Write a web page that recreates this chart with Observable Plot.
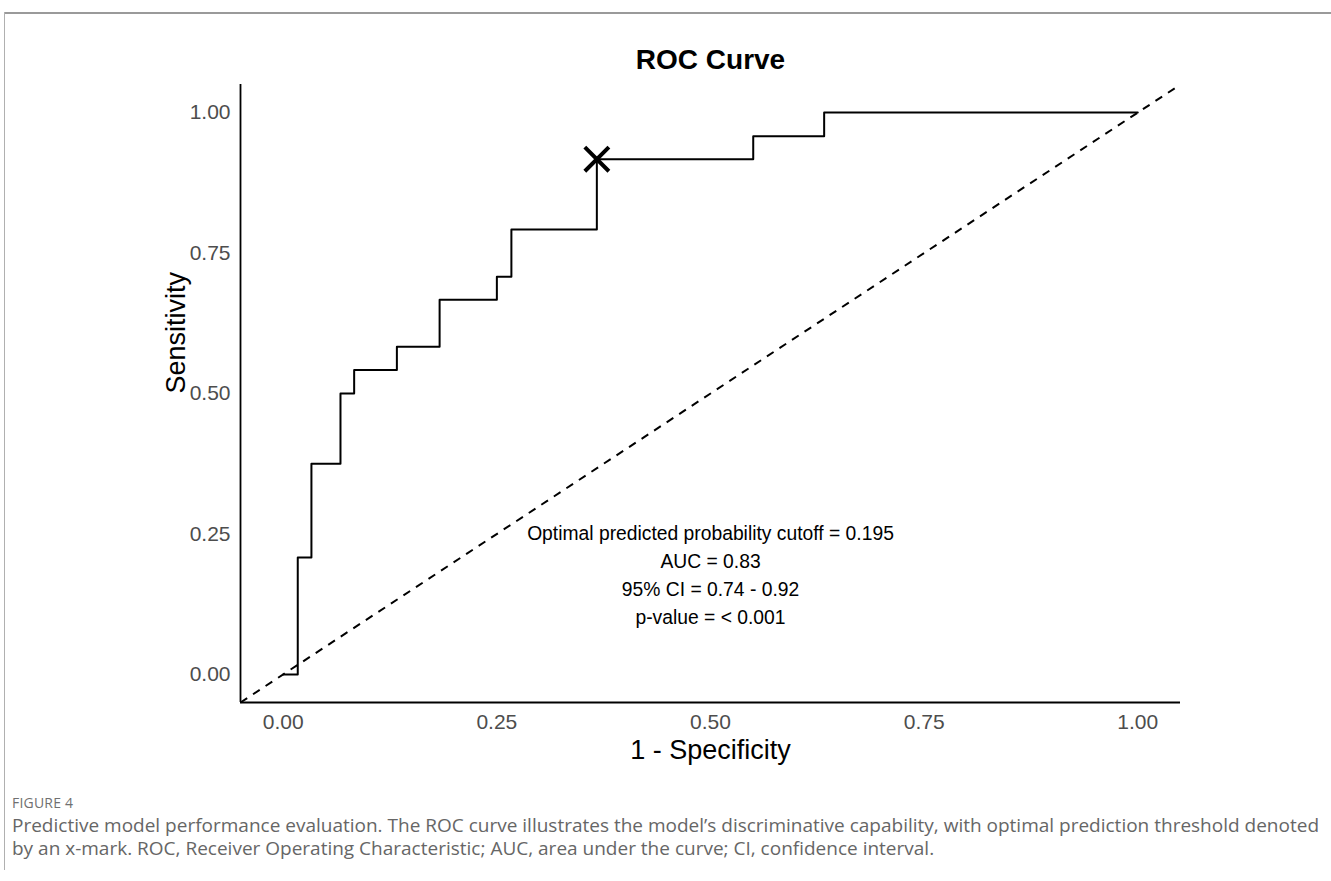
<!DOCTYPE html>
<html>
<head>
<meta charset="utf-8">
<script src="https://cdn.jsdelivr.net/npm/d3@7"></script>
<script src="https://cdn.jsdelivr.net/npm/@observablehq/plot@0.6"></script>
<style>
  html, body { margin: 0; padding: 0; background: #fff; }
  body { width: 1331px; height: 881px; position: relative; overflow: hidden; }
  #chart { position: absolute; left: 0; top: 0; }
  #chart svg text { font-family: "Liberation Sans", Arial, Helvetica, sans-serif; }
  #frameTop { position: absolute; left: 4px; top: 12px; width: 1327px; height: 2px; background: #9a9a9a; }
  #frameLeft { position: absolute; left: 4px; top: 12px; width: 1px; height: 858px; background: #b0b0b0; }
  #figlabel { position: absolute; left: 12px; top: 793px; font-family: "Open Sans", sans-serif; font-size: 14px; color: #707070; letter-spacing: 0.2px; }
  #caption { position: absolute; left: 12px; top: 814px; width: 1315px; font-family: "Open Sans", sans-serif; font-size: 19px; line-height: 23px; color: #666666; }
</style>
</head>
<body>
<div id="chart"></div>
<div id="frameTop"></div>
<div id="frameLeft"></div>
<div id="figlabel">FIGURE 4</div>
<div id="caption">Predictive model performance evaluation. The ROC curve illustrates the model’s discriminative capability, with optimal prediction threshold denoted by an x-mark. ROC, Receiver Operating Characteristic; AUC, area under the curve; CI, confidence interval.</div>
<script>
// ---- Data ----
const fpr = [0, 0.017, 0.033, 0.067, 0.083, 0.133, 0.183, 0.250, 0.267, 0.367, 0.550, 0.633, 1.000];
const tpr = [0, 0.208, 0.375, 0.500, 0.542, 0.583, 0.667, 0.708, 0.792, 0.917, 0.958, 1.000, 1.000];
const cutoffFpr = [0.367];
const cutoffTpr = [0.917];
const tickValues = [0, 0.25, 0.5, 0.75, 1];
const annotationText = [
  "Optimal predicted probability cutoff = 0.195",
  "AUC = 0.83",
  "95% CI = 0.74 - 0.92",
  "p-value = < 0.001"
];
const annotationX = [0.5, 0.5, 0.5, 0.5];
const annotationY = [0.25, 0.20, 0.15, 0.10];
const titleText = "ROC Curve";
const xLabel = "1 - Specificity";
const yLabel = "Sensitivity";

// ---- Build tables ----
const curve = fpr.map((x, i) => ({x, y: tpr[i]}));
const cutoff = cutoffFpr.map((x, i) => ({x, y: cutoffTpr[i]}));
const notes = annotationText.map((t, i) => ({t, x: annotationX[i], y: annotationY[i]}));
const domain = [-0.05, 1.05];
const diagonal = [{x1: domain[0], y1: domain[0], x2: domain[1], y2: domain[1]}];

const font = '"Liberation Sans", Arial, Helvetica, sans-serif';
const W = 1331, H = 780;

const chart = Plot.plot({
  width: W,
  height: H,
  marginLeft: 240,
  marginRight: 151,
  marginTop: 84,
  marginBottom: H - 702,
  style: {fontFamily: font, background: "transparent", overflow: "visible"},
  x: {domain, ticks: tickValues, tickFormat: d3.format(".2f")},
  y: {domain, ticks: tickValues, tickFormat: d3.format(".2f")},
  marks: [
    Plot.axisX({ticks: tickValues, tickFormat: d3.format(".2f"), tickSize: 0, tickPadding: 12, fontSize: 21, fill: "#4d4d4d", label: null}),
    Plot.axisY({ticks: tickValues, tickFormat: d3.format(".2f"), tickSize: 0, tickPadding: 10, fontSize: 21, fill: "#4d4d4d", label: null}),
    Plot.ruleX([domain[0]], {stroke: "black", strokeWidth: 1.8}),
    Plot.ruleY([domain[0]], {stroke: "black", strokeWidth: 1.8}),
    Plot.link(diagonal, {x1: "x1", y1: "y1", x2: "x2", y2: "y2", stroke: "black", strokeWidth: 2, strokeDasharray: "8,7"}),
    Plot.line(curve, {x: "x", y: "y", curve: "step-after", stroke: "black", strokeWidth: 2}),
    Plot.dot(cutoff, {x: "x", y: "y", symbol: "times", r: 11, stroke: "black", strokeWidth: 4}),
    Plot.text(notes, {x: "x", y: "y", text: "t", fontSize: 19.3, fill: "black", textAnchor: "middle"}),
    Plot.text([titleText], {frameAnchor: "top", dy: -24, fontSize: 28, fontWeight: "bold", fill: "black", lineAnchor: "middle"}),
    Plot.text([xLabel], {frameAnchor: "bottom", dy: 48, fontSize: 27, fill: "black", lineAnchor: "middle"}),
    Plot.text([yLabel], {frameAnchor: "left", dx: -64, rotate: -90, fontSize: 27, fill: "black", lineAnchor: "middle"})
  ]
});
document.getElementById("chart").appendChild(chart);
</script>
</body>
</html>
